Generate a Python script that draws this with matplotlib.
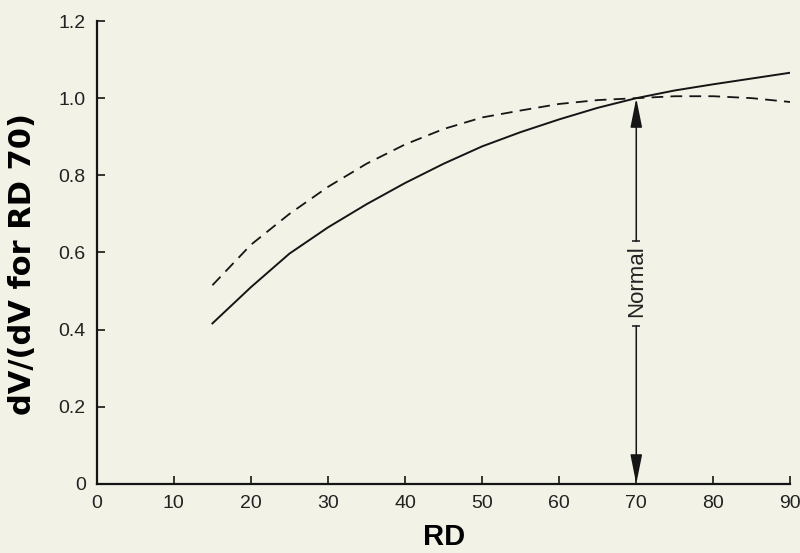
import numpy as np
import matplotlib.pyplot as plt

# relative dV curves, normalised to RD 70
rd = [15, 20, 25, 30, 35, 40, 45, 50, 55, 60, 65, 70, 75, 80, 85, 90]
solid = [0.416, 0.51, 0.597, 0.665, 0.725, 0.78, 0.83, 0.875, 0.912, 0.945, 0.975, 1.0, 1.02, 1.036, 1.051, 1.066]
dashed = [0.515, 0.62, 0.70, 0.77, 0.83, 0.88, 0.92, 0.95, 0.968, 0.985, 0.995, 1.0, 1.005, 1.005, 1.0, 0.99]

xticks = [0, 10, 20, 30, 40, 50, 60, 70, 80, 90]
yticks = [0, 0.2, 0.4, 0.6, 0.8, 1.0, 1.2]
ylabels = ["0", "0.2", "0.4", "0.6", "0.8", "1.0", "1.2"]

normal_rd = 70
normal_label = "Normal"
label_mid = 0.526
gap_top, gap_bottom = 0.629, 0.41

bg = "#f2f3e6"
ink = "#151515"
plt.rcParams['font.family'] = ['Liberation Sans', 'DejaVu Sans']

fig = plt.figure(figsize=(8, 5.53), dpi=100, facecolor=bg)
ax = fig.add_axes([0.121, 0.125, 0.867, 0.837], facecolor=bg)

ax.plot(rd, solid, color=ink, lw=1.4)
ax.plot(rd, dashed, color=ink, lw=1.3, dashes=(6.5, 4))

# double arrow marking the normal point, broken by the label
ax.text(normal_rd, label_mid, normal_label, rotation=90, ha="center", va="center",
        fontsize=16, color="#222222")
arrow = dict(arrowstyle="-|>,head_length=0.9,head_width=0.18", color=ink,
             lw=1.1, mutation_scale=20, shrinkA=0, shrinkB=0)
ax.annotate("", xy=(normal_rd, 1.0), xytext=(normal_rd, gap_top), arrowprops=arrow)
ax.annotate("", xy=(normal_rd, 0.0), xytext=(normal_rd, gap_bottom), arrowprops=arrow)
ax.plot([normal_rd, normal_rd], [gap_top, gap_bottom], ls="none", marker="_",
        ms=6, mew=1.1, color=ink)

ax.set_xlim(0, 90)
ax.set_ylim(0, 1.2)
ax.set_xticks(xticks)
ax.set_yticks(yticks)
ax.set_yticklabels(ylabels)

for s in ["top", "right"]:
    ax.spines[s].set_visible(False)
for s in ["left", "bottom"]:
    ax.spines[s].set_linewidth(1.6)
    ax.spines[s].set_color(ink)

ax.tick_params(direction="in", length=6, width=1.2, colors=ink,
               labelsize=14, pad=8)
for lab in ax.get_xticklabels() + ax.get_yticklabels():
    lab.set_color("#222222")

ax.set_xlabel("RD", fontsize=21, fontweight="bold")
ax.set_ylabel("dV/(dV for RD 70)", fontsize=22, fontweight="bold",
              family="DejaVu Sans")
ax.xaxis.label.set_va("center")
ax.yaxis.label.set_va("center")
ax.xaxis.set_label_coords(0.5, -0.115)
ax.yaxis.set_label_coords(-0.107, 0.475)

fig.savefig("out.png", dpi=100, facecolor=bg)
